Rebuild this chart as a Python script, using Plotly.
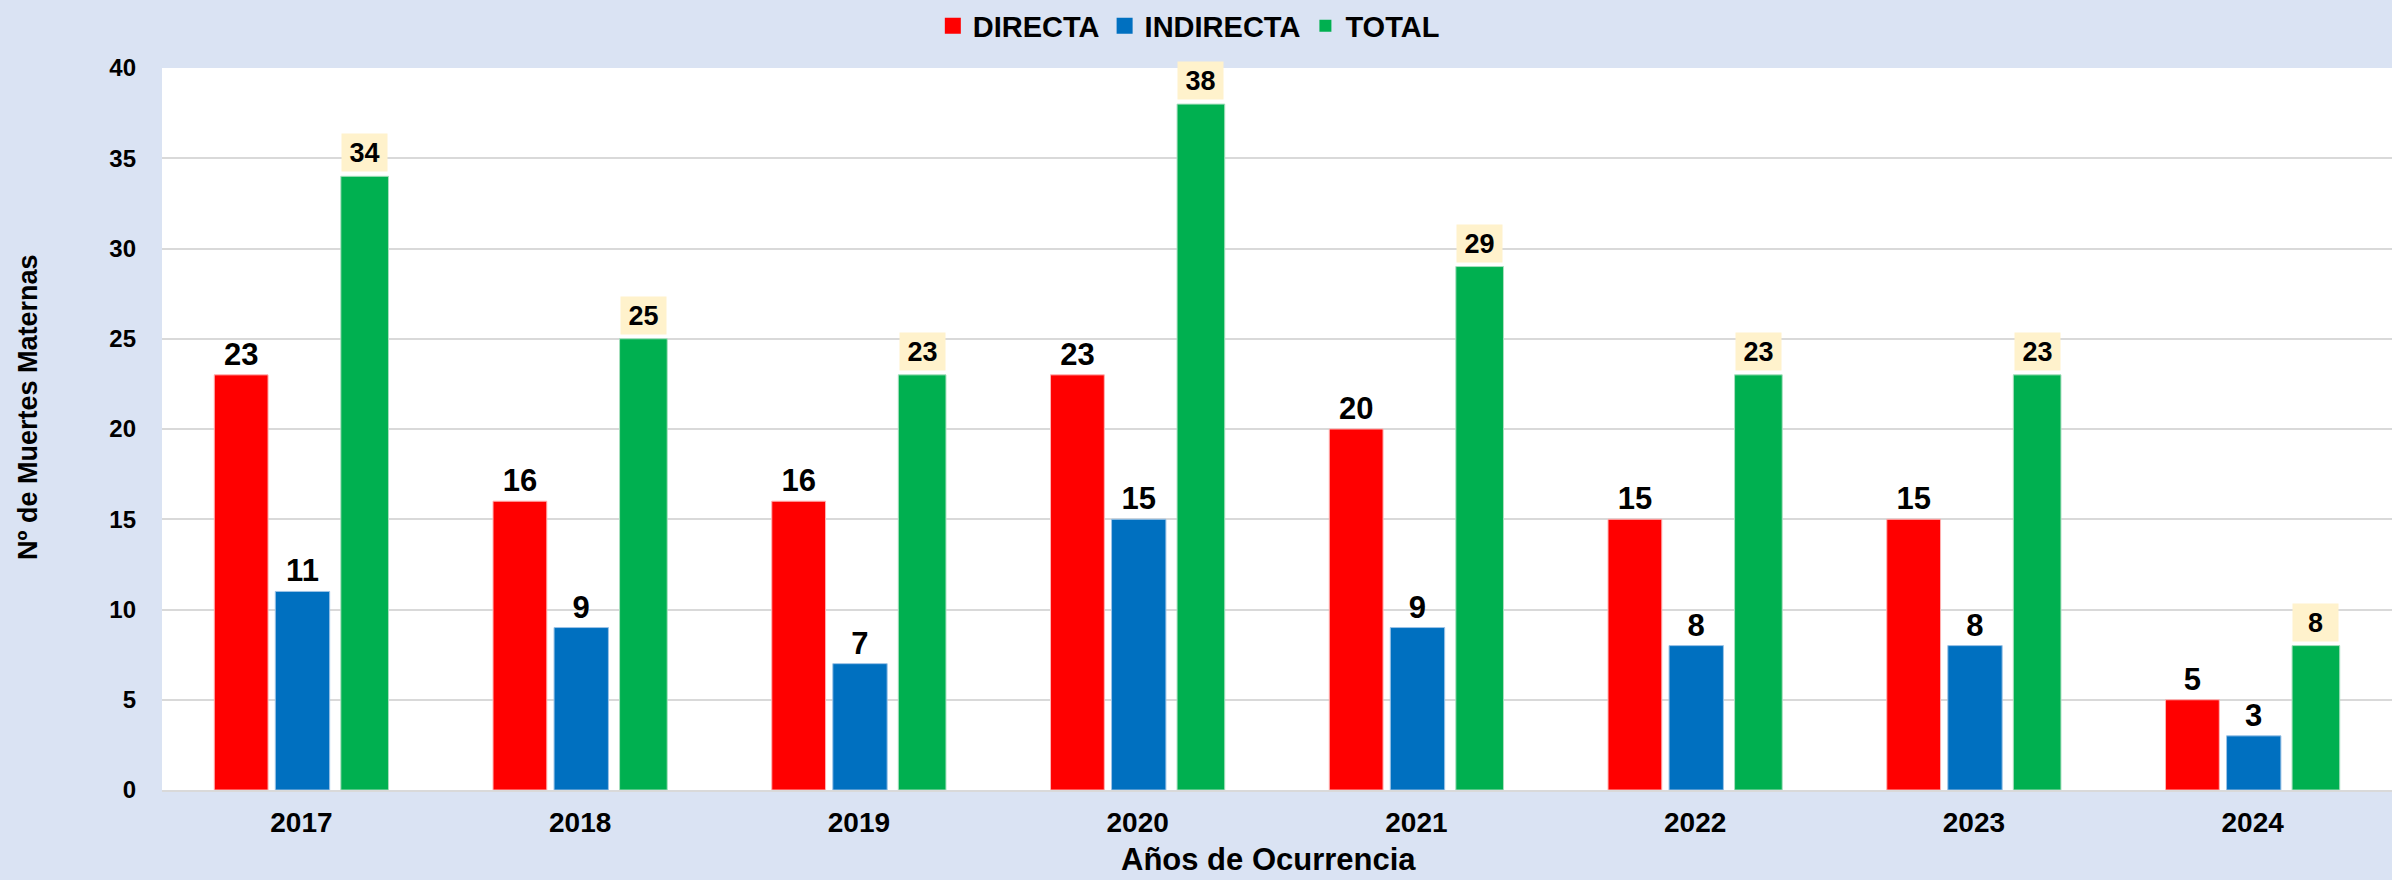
import plotly.graph_objects as go

years = ["2017", "2018", "2019", "2020", "2021", "2022", "2023", "2024"]
directa = [23, 16, 16, 23, 20, 15, 15, 5]
indirecta = [11, 9, 7, 15, 9, 8, 8, 3]
total = [34, 25, 23, 38, 29, 23, 23, 8]
yticks = [0, 5, 10, 15, 20, 25, 30, 35, 40]

FONT = "Arial, Liberation Sans, sans-serif"
xi = list(range(len(years)))

RED, BLUE, GREEN = "#FF0000", "#0070C0", "#00B050"

# bar geometry (category units)
W_R, C_R = 0.193, -0.216
W_B, C_B = 0.195, 0.004
W_G, C_G = 0.171, 0.227

fig = go.Figure()
fig.add_trace(go.Bar(
    x=xi, y=directa, name="DIRECTA", width=W_R, offset=C_R - W_R / 2,
    marker=dict(color=RED, line=dict(color="#FFB3B3", width=1)),
    text=[str(v) for v in directa], textposition="outside",
    textfont=dict(family=FONT, size=31, color="black", weight="bold"),
    cliponaxis=False, showlegend=False, legendgroup="d",
))
fig.add_trace(go.Bar(
    x=xi, y=indirecta, name="INDIRECTA", width=W_B, offset=C_B - W_B / 2,
    marker=dict(color=BLUE, line=dict(color="#9CC3E6", width=1)),
    text=[str(v) for v in indirecta], textposition="outside",
    textfont=dict(family=FONT, size=31, color="black", weight="bold"),
    cliponaxis=False, showlegend=False, legendgroup="i",
))
fig.add_trace(go.Bar(
    x=xi, y=total, name="TOTAL", width=W_G, offset=C_G - W_G / 2,
    marker=dict(color=GREEN, line=dict(color="#A9DFBF", width=1)),
    showlegend=False, legendgroup="t",
))

# legend entries with larger square swatches (as in the reference)
for name, col, sz, grp in [("DIRECTA", RED, 16, "d"), ("INDIRECTA", BLUE, 16, "i"),
                           ("TOTAL", GREEN, 12, "t")]:
    fig.add_trace(go.Scatter(
        x=[None], y=[None], mode="markers", name=name, legendgroup=grp,
        marker=dict(symbol="square", size=sz, color=col, line=dict(width=0)),
    ))

for i, v in zip(xi, total):
    fig.add_annotation(
        x=i + C_G, y=v, xref="x", yref="y", yanchor="bottom", yshift=4,
        text=str(v), showarrow=False, bgcolor="#FFF2CC",
        width=39, height=31, borderpad=3,
        font=dict(family=FONT, size=27, color="black", weight="bold"),
    )

# axis titles placed as annotations
fig.add_annotation(
    text="Años de Ocurrencia", xref="paper", yref="paper",
    x=0.496, y=-0.0956, xanchor="center", yanchor="middle", showarrow=False,
    font=dict(family=FONT, size=31, color="black", weight="bold"),
)
fig.add_annotation(
    text="Nº de Muertes Maternas", xref="paper", yref="paper",
    x=-0.0601, y=0.5305, xanchor="center", yanchor="middle", showarrow=False,
    textangle=-90,
    font=dict(family=FONT, size=27, color="black", weight="bold"),
)

fig.update_layout(
    width=2392, height=880,
    barmode="overlay",
    paper_bgcolor="#DAE3F3", plot_bgcolor="white",
    margin=dict(l=162, r=0, t=68, b=90),
    font=dict(family=FONT, color="black"),
    showlegend=True,
    legend=dict(
        orientation="h", xref="container", yref="container",
        x=0.497, xanchor="center", y=0.9705, yanchor="middle",
        font=dict(family=FONT, size=29, color="black", weight="bold"),
        itemwidth=30, bgcolor="rgba(0,0,0,0)", traceorder="normal",
    ),
    xaxis=dict(
        range=[-0.5, 7.5], tickmode="array", tickvals=xi, ticktext=years,
        tickfont=dict(family=FONT, size=28, color="black", weight="bold"),
        showgrid=False, showline=True, linecolor="#D9D9D9", linewidth=2,
        ticks="", ticklabelstandoff=6,
        automargin=False, fixedrange=True,
    ),
    yaxis=dict(
        range=[0, 40], tickmode="array", tickvals=yticks,
        tickfont=dict(family=FONT, size=24, color="black", weight="bold"),
        showgrid=True, gridcolor="#D9D9D9", gridwidth=2,
        zeroline=False, ticks="", ticklabelstandoff=25,
        automargin=False, fixedrange=True,
    ),
)

fig.write_html("out.html", config={"displayModeBar": False})

# remove the browser's default page margin so the figure fills the window
with open("out.html", "r", encoding="utf-8") as f:
    html = f.read()
html = html.replace(
    "<head>",
    "<head><style>html,body{margin:0;padding:0;overflow:hidden;}</style>",
    1,
)
with open("out.html", "w", encoding="utf-8") as f:
    f.write(html)
